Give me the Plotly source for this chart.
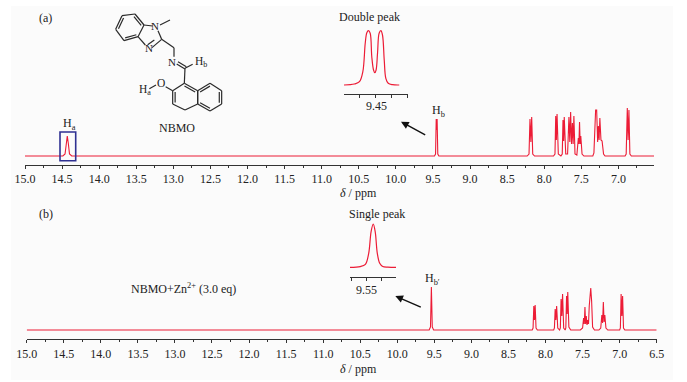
import plotly.graph_objects as go

W, H = 687, 382
RED = "#ec1c36"
TXT = "#222222"
FONT = "Liberation Serif"

# ---- data ----
ticks_a = [15.0,14.5,14.0,13.5,13.0,12.5,12.0,11.5,11.0,10.5,10.0,9.5,9.0,8.5,8.0,7.5,7.0]
ticks_b = ticks_a + [6.5]
minor_a = [14.75,14.25,13.75,13.25,12.75,12.25,11.75,11.25,10.75,10.25,9.75,9.25,8.75,8.25,7.75,7.25,6.75]
minor_b = minor_a

ppm_a = [15.0,14.49,14.46,14.445,14.43,14.415,14.40,14.37,9.48,9.465,9.456,9.45,9.444,9.435,9.42,
         8.23,8.205,8.192,8.18,8.169,8.155,8.13,7.875,7.855,7.845,7.836,7.827,7.81,7.775,7.757,7.747,7.738,7.73,7.71,
         7.685,7.667,7.655,7.644,7.632,7.62,7.61,7.6,7.585,7.56,7.54,7.532,7.524,7.515,7.507,7.49,7.465,7.345,7.33,7.32,7.307,7.293,7.28,7.27,7.26,7.25,7.235,7.22,7.2,7.18,
         6.91,6.895,6.88,6.869,6.858,6.845,6.825,6.52]
int_a = [0,0,2,12,20,12,2,0,0,2,37,26,37,2,0,
         0,2,37,14,39,2,0,0,2,40,16,42,2,0,2,36,15,39,2,
         2,39,14,44,12,33,12,40,2,1,18,12,34,12,20,2,0,0,3,18,46,46,14,30,16,38,16,15,2,0,
         0,2,48,16,46,2,0,0]

ppm_b = [15.0,9.57,9.552,9.54,9.528,9.51,8.18,8.168,8.158,8.149,8.14,8.128,8.11,7.89,7.88,7.87,7.86,7.85,7.835,7.81,7.80,7.79,7.78,7.77,7.755,7.735,7.726,7.716,7.708,7.70,7.685,7.66,7.53,7.5,7.486,7.477,7.468,7.459,7.45,7.44,7.43,7.42,7.41,7.39,7.378,7.365,7.34,7.28,7.255,7.24,7.23,7.22,7.21,7.2,7.185,7.16,7.0,6.99,6.98,6.97,6.96,6.948,6.93,6.5]
int_b = [0,0,3,43,3,0,0,2,24,10,25,2,0,0,2,21,10,24,2,0,2,31,14,36,2,0,2,34,16,38,3,0,0,2,12,6,23,6,14,5,10,6,24,42,29,3,0,0,2,15,7,28,8,15,2,0,0,2,36,14,34,2,0,0]

ppm_ia = [9.4699,9.4634,9.4602,9.4581,9.4566,9.4556,9.4546,9.4535,9.4525,9.4514,9.4506,9.4498,9.4489,9.4479,9.4468,9.4458,9.4447,9.4437,9.4422,9.4395,9.4353]
int_ia = [0,1,3.3,13.3,41.7,52.3,54.3,51.7,28.3,15,12.3,15,31.7,51.7,54.3,50,25,6.7,1.7,0.3,0]
ticks_ia = [9.47,9.46,9.45,9.44,9.43]

ppm_ib = [9.5612,9.5544,9.551,9.5488,9.5472,9.5458,9.5445,9.5431,9.5415,9.5395,9.5361,9.5307]
int_ib = [0,0.7,3,14,35.7,43.3,35.7,14,4,0.8,0.2,0]
ticks_ib = [9.56,9.55,9.54,9.53]

# ---- layout helpers (pixel placement) ----
def xdom(a, b):
    return [a / W, b / W]

def ydom(bottom, top):
    return [1 - bottom / H, 1 - top / H]

def px(x):
    return x / W

def py(y):
    return 1 - y / H

fig = go.Figure()
line = dict(color=RED, width=1.1)
fig.add_trace(go.Scatter(x=ppm_a, y=int_a, mode="lines", line=line, xaxis="x", yaxis="y", hoverinfo="skip"))
fig.add_trace(go.Scatter(x=ppm_b, y=int_b, mode="lines", line=line, xaxis="x2", yaxis="y2", hoverinfo="skip"))
fig.add_trace(go.Scatter(x=ppm_ia, y=int_ia, mode="lines", line=dict(color=RED, width=1.2, shape="spline"), xaxis="x3", yaxis="y3", hoverinfo="skip"))
fig.add_trace(go.Scatter(x=ppm_ib, y=int_ib, mode="lines", line=dict(color=RED, width=1.2, shape="spline"), xaxis="x4", yaxis="y4", hoverinfo="skip"))

def xaxis(domain, rng, anchor, vals, minor=None, labels=True, size=12, ticklen=3):
    d = dict(domain=domain, range=rng, anchor=anchor, showgrid=False, zeroline=False, automargin=False,
             showline=True, linecolor="#333333", linewidth=1, ticks="outside", ticklen=ticklen, tickwidth=1,
             tickcolor="#333333", tickmode="array", tickvals=vals, showticklabels=labels,
             ticktext=[f"{v:.1f}" for v in vals],
             tickfont=dict(family=FONT, size=size, color=TXT), tickangle=0)
    if minor:
        d["minor"] = dict(tickmode="array", tickvals=minor, ticks="outside", ticklen=2, tickwidth=1, tickcolor="#333333", showgrid=False)
    return d

def yaxis(domain, rng, anchor):
    return dict(domain=domain, range=rng, anchor=anchor, visible=False, fixedrange=True, automargin=False)

layout = dict(
    template="none",
    width=W, height=H, margin=dict(l=0, r=0, t=0, b=0, pad=0), showlegend=False,
    paper_bgcolor="white", plot_bgcolor="rgba(0,0,0,0)",
    xaxis=xaxis(xdom(25, 654), [15.0, 6.52], "y", ticks_a, minor=minor_a),
    yaxis=yaxis(ydom(165, 96), [-9, 60], "x"),
    xaxis2=xaxis(xdom(26.7, 656.7), [15.0, 6.5], "y2", ticks_b, minor=minor_b),
    yaxis2=yaxis(ydom(339.3, 280), [-9.3, 50], "x2"),
    xaxis3=xaxis(xdom(344, 407.7), [9.4699, 9.43], "y3", ticks_ia, labels=False),
    yaxis3=yaxis(ydom(93.7, 27), [-8.7, 58], "x3"),
    xaxis4=xaxis(xdom(350, 396), [9.5612, 9.5307], "y4", ticks_ib, labels=False),
    yaxis4=yaxis(ydom(276.7, 221), [-9.4, 46.3], "x4"),
)

shapes = [dict(type="rect", xref="paper", yref="paper", x0=px(11), x1=px(673), y0=py(380), y1=py(6),
               fillcolor="#fbfbfb", line=dict(width=0), layer="below"),
          dict(type="rect", xref="paper", yref="paper", x0=px(60), x1=px(75.7), y0=py(160.7), y1=py(132),
               line=dict(color="#2f3192", width=1.6))]

# molecule diagram, coordinates in 1/3 px
benz = [(366,47),(405,42),(432,75),(414,110),(372,122),(347,88)]
naph1 = [(553,250),(593,272),(593,312),(555,330),(518,312),(518,272)]
naph2 = [(593,272),(630,250),(665,272),(665,312),(630,333),(593,312)]
bonds = []
for ring in (benz, naph1, naph2):
    bonds += [(ring[i], ring[(i + 1) % 6]) for i in range(6)]
bonds += [((432,75),(458,78)),((414,110),(436,135)),((456,143),(485,118)),((474,92),(485,118)),
          ((480,75),(510,60)),((485,118),(522,143)),((522,143),(522,170)),
          ((530,192),(555,207)),((534,185),(559,200)),((555,205),(578,193)),((555,205),(553,250)),
          ((518,272),(497,260)),((468,255),(448,266))]

def inner(p, q, ring):
    cx = sum(v[0] for v in ring) / 6
    cy = sum(v[1] for v in ring) / 6
    f = lambda v: (v[0] + (cx - v[0]) * 0.2, v[1] + (cy - v[1]) * 0.2)
    return f(p), f(q)

for ring, idx in ((benz, (5, 1, 3)), (naph1, (0, 4)), (naph2, (0, 2, 4))):
    for i in idx:
        bonds.append(inner(ring[i], ring[(i + 1) % 6], ring))
bonds.append(((463,120),(443,134)))

for p, q in bonds:
    shapes.append(dict(type="line", xref="paper", yref="paper", x0=px(p[0]/3), y0=py(p[1]/3),
                       x1=px(q[0]/3), y1=py(q[1]/3), line=dict(color="#2a2a2a", width=1.2)))

def txt(s, x, y, size=12, anchor="center"):
    return dict(text=s, x=px(x), y=py(y), xref="paper", yref="paper", xanchor=anchor, yanchor="middle",
                showarrow=False, font=dict(family=FONT, size=size, color=TXT))

def arrow(x0, y0, x1, y1):
    return dict(text="", x=px(x1), y=py(y1), xref="paper", yref="paper", ax=x0 - x1, ay=y0 - y1,
                axref="pixel", ayref="pixel", showarrow=True, arrowhead=2, arrowsize=1.1, arrowwidth=1.4, arrowcolor="#111111")

annotations = [
    txt("(a)", 45, 18), txt("(b)", 45.5, 214),
    txt("NBMO", 177, 128.5), txt("N", 155, 26, 11), txt("N", 149, 48.5, 11), txt("N", 172.5, 62, 11), txt("O", 160.7, 83, 11.5),
    txt("H<sub>b</sub>", 201, 62, 11.5), txt("H<sub>a</sub>", 145, 90, 11.5),
    txt("H<sub>a</sub>", 69, 124),
    txt("Double peak", 369, 17), txt("9.45", 376, 106), txt("H<sub>b</sub>", 438, 111),
    txt("Single peak", 377, 214), txt("9.55", 367, 290), txt("H<sub>b′</sub>", 433, 279),
    txt("NBMO+Zn<sup>2+</sup> (3.0 eq)", 183, 288),
    txt("<i>δ</i> / ppm", 358, 192.5), txt("<i>δ</i> / ppm", 358, 369),
    arrow(426.7, 135.7, 401, 121.7), arrow(422.3, 307.7, 395.3, 296),
]
layout["shapes"] = shapes
layout["annotations"] = annotations
fig.update_layout(**layout)
fig.write_html("out.html", config=dict(displayModeBar=False),
               post_script="document.body.style.margin='0';")
